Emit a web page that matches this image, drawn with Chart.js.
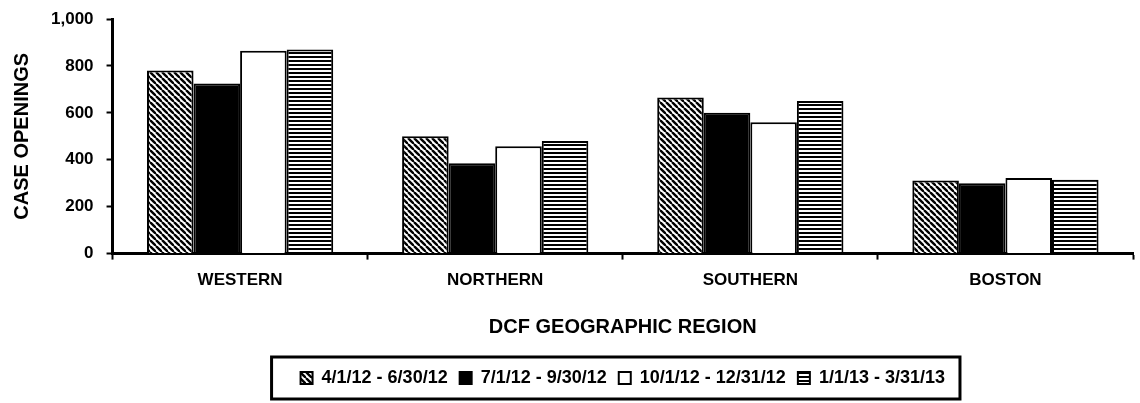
<!DOCTYPE html>
<html>
<head>
<meta charset="utf-8">
<script src="https://cdn.jsdelivr.net/npm/chart.js@4"></script>
<style>
    html, body { margin: 0; padding: 0; background: #fff; }
    #wrap { width: 1140px; height: 403px; }
</style>
</head>
<body>
<div id="wrap"><canvas id="regionChart"></canvas></div>
<script>
var regions = ["WESTERN", "NORTHERN", "SOUTHERN", "BOSTON"];
var periods = ["4/1/12 - 6/30/12", "7/1/12 - 9/30/12", "10/1/12 - 12/31/12", "1/1/13 - 3/31/13"];
var apr12 = [780, 500, 665, 312];
var jul12 = [725, 385, 600, 300];
var oct12 = [865, 458, 560, 322];
var jan13 = [870, 480, 650, 315];
var yTicks = [0, 200, 400, 600, 800, 1000];

var FONT = "'Liberation Sans', Arial, sans-serif";

function makePattern(kind) {
    var c = document.createElement("canvas");
    var s = kind === "hatch" ? 6 : 4;
    c.width = s;
    c.height = s;
    var g = c.getContext("2d");
    g.fillStyle = "#fff";
    g.fillRect(0, 0, s, s);
    g.strokeStyle = "#000";
    if (kind === "hatch") {
        g.lineWidth = 2.4;
        [-s, 0, s].forEach(function (k) {
            g.beginPath();
            g.moveTo(k, 0);
            g.lineTo(k + s, s);
            g.stroke();
        });
    } else {
        g.fillStyle = "#000";
        g.fillRect(0, 0, s, 2);
    }
    return g.createPattern(c, "repeat");
}

var fills = [makePattern("hatch"), "#000", "#fff", makePattern("stripes")];
var series = [apr12, jul12, oct12, jan13];

var datasets = series.map(function (vals, i) {
    return {
        label: periods[i],
        data: vals,
        backgroundColor: fills[i],
        borderColor: "#000",
        borderWidth: 2,
        borderSkipped: "bottom",
        barPercentage: 1,
        categoryPercentage: 0.73
    };
});

// frame around the legend, like the boxed key in the original
var legendFrame = {
    id: "legendFrame",
    afterDraw: function (chart) {
        var boxes = chart.legend && chart.legend.legendHitBoxes;
        if (!boxes || !boxes.length) return;
        var minX = Math.min.apply(null, boxes.map(function (b) { return b.left; }));
        var maxX = Math.max.apply(null, boxes.map(function (b) { return b.left + b.width; }));
        var midY = boxes[0].top + boxes[0].height / 2;
        var ctx = chart.ctx;
        ctx.save();
        ctx.strokeStyle = "#000";
        ctx.lineWidth = 3;
        ctx.strokeRect(minX - 29, midY - 21, (maxX - minX) + 44, 42);
        ctx.restore();
    }
};

Chart.defaults.font.family = FONT;
Chart.defaults.font.weight = "bold";
Chart.defaults.color = "#000";

new Chart(document.getElementById("regionChart"), {
    type: "bar",
    data: { labels: regions, datasets: datasets },
    plugins: [legendFrame],
    options: {
        responsive: true,
        maintainAspectRatio: false,
        animation: false,
        layout: { padding: { top: 19, right: 7, bottom: 6, left: 0 } },
        plugins: {
            tooltip: { enabled: false },
            legend: {
                position: "bottom",
                fullSize: false,
                labels: {
                    boxWidth: 12,
                    boxHeight: 12,
                    padding: 12,
                    color: "#000",
                    font: { size: 18, weight: "bold", family: FONT }
                }
            }
        },
        scales: {
            x: {
                grid: {
                    offset: true,
                    drawOnChartArea: false,
                    drawTicks: true,
                    tickLength: 6,
                    tickWidth: 2,
                    tickColor: "#000"
                },
                border: { display: true, color: "#000", width: 3 },
                ticks: {
                    padding: 11,
                    color: "#000",
                    font: { size: 17, weight: "bold", family: FONT }
                },
                title: {
                    display: true,
                    text: "DCF GEOGRAPHIC REGION",
                    color: "#000",
                    padding: { top: 13, bottom: 18 },
                    font: { size: 20, weight: "bold", family: FONT }
                }
            },
            y: {
                min: 0,
                max: 1000,
                afterBuildTicks: function (axis) {
                    axis.ticks = yTicks.map(function (v) { return { value: v }; });
                },
                afterFit: function (axis) {
                    axis.paddingTop = 0;
                },
                grid: {
                    drawOnChartArea: false,
                    drawTicks: true,
                    tickLength: 6,
                    tickWidth: 2,
                    tickColor: "#000"
                },
                border: { display: true, color: "#000", width: 3 },
                ticks: {
                    padding: 13,
                    color: "#000",
                    font: { size: 17, weight: "bold", family: FONT },
                    callback: function (v) { return v.toLocaleString("en-US"); }
                },
                title: {
                    display: true,
                    text: "CASE OPENINGS",
                    color: "#000",
                    padding: { top: 10, bottom: 4 },
                    font: { size: 20, weight: "bold", family: FONT }
                }
            }
        }
    }
});
</script>
</body>
</html>
